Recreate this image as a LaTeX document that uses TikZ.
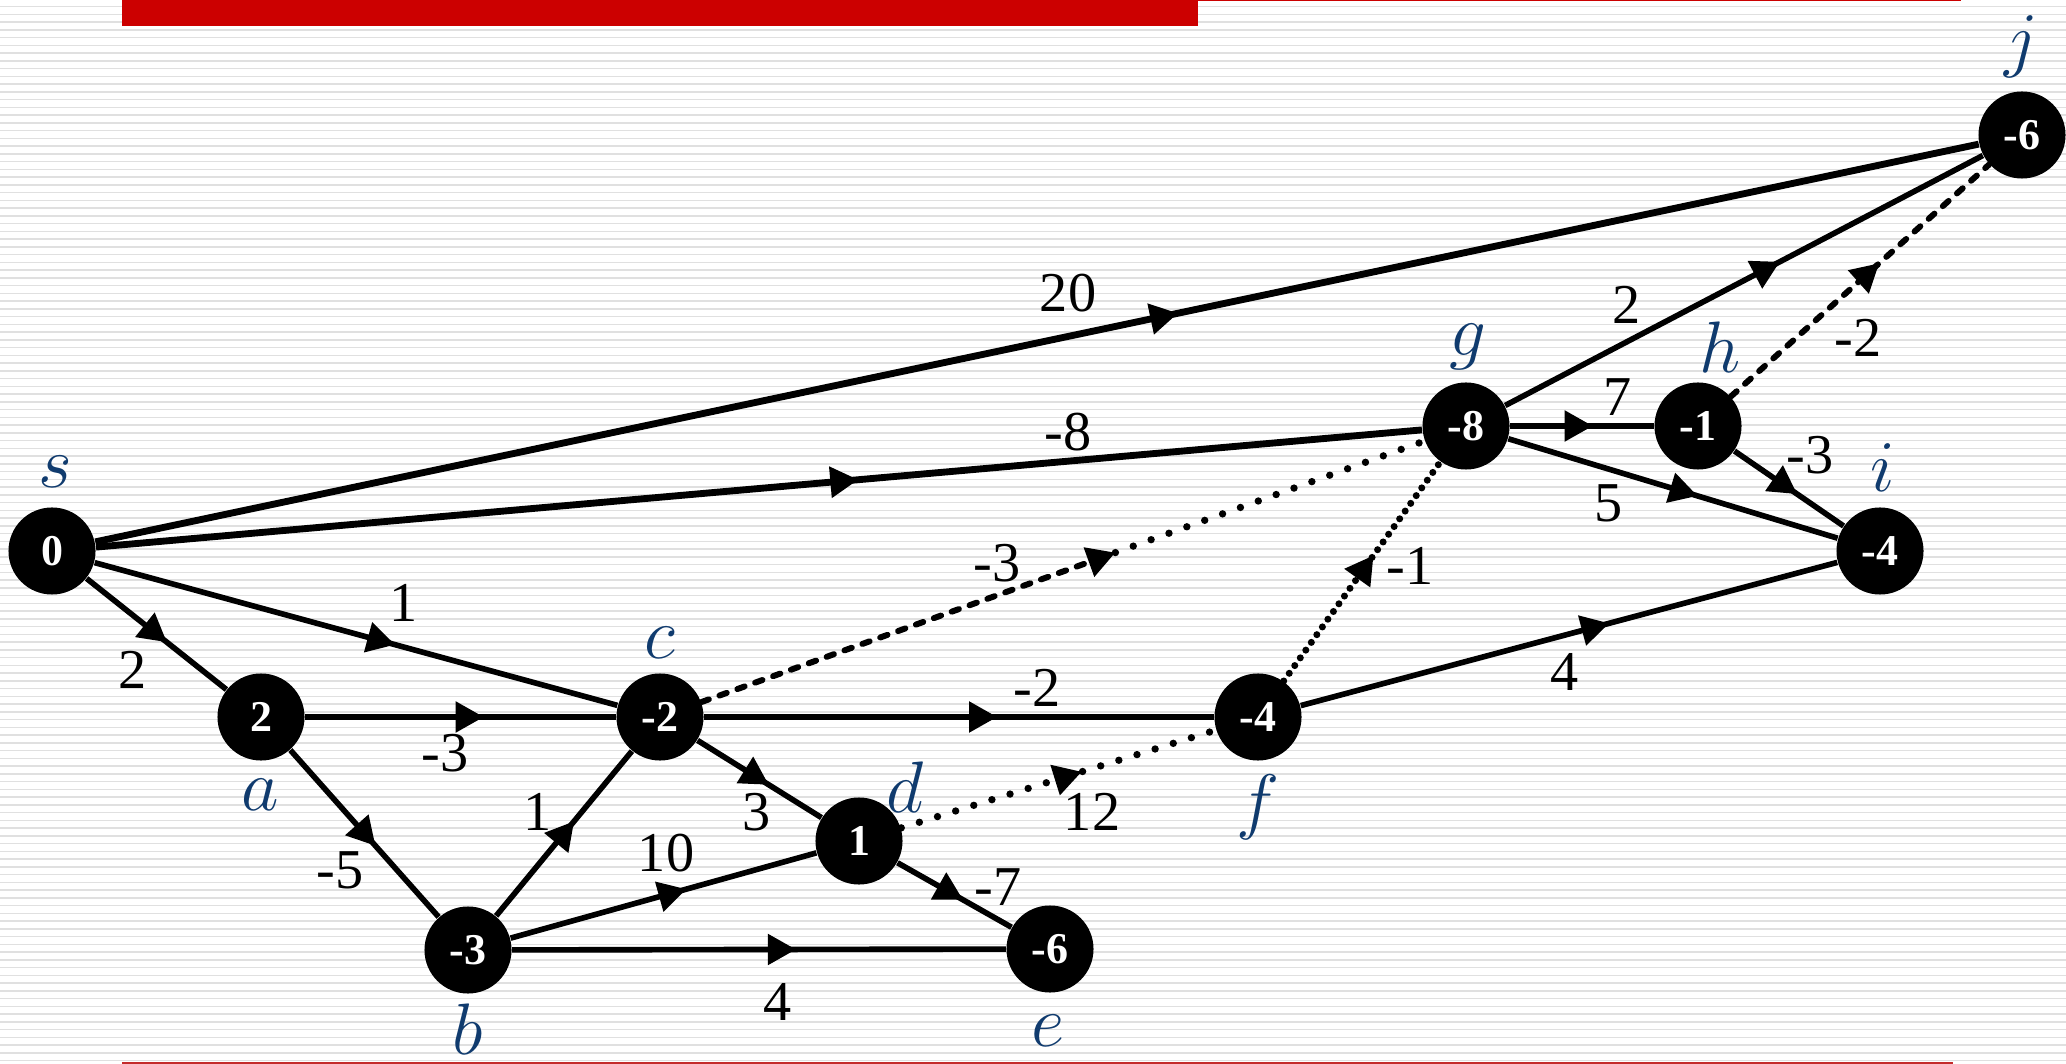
\documentclass[tikz,border=0pt]{standalone}
\usepackage{fontspec}
\setmainfont{Liberation Serif}
\usetikzlibrary{arrows.meta,decorations.markings,calc}
\definecolor{barred}{HTML}{CC0000}
\definecolor{linered}{HTML}{C42B2B}
\definecolor{labblue}{RGB}{16,59,110}
\definecolor{stripegray}{HTML}{E0E0E0}
\begin{document}
\begin{tikzpicture}[x=0.01cm,y=-0.01cm,
  vert/.style={circle,fill=black,minimum size=0.87cm,inner sep=0pt,text=white,font=\fontsize{12.5}{14}\selectfont\bfseries},
  lab/.style={text=labblue,font=\fontsize{22.5}{26}\selectfont,inner sep=0pt},
  wt/.style={font=\fontsize{16}{19}\selectfont,inner sep=0pt},
  stripe/.style={line width=0.45pt,stripegray},
  midarrow/.style={postaction={decorate},decoration={markings,mark=at position 0.575 with {\arrow{Triangle[length=8pt,width=8.5pt]}}}},
  solidline/.style={line width=1.6pt},
  heavyline/.style={line width=1.95pt},
  dashline/.style={line width=1.7pt,line cap=round,dash pattern=on 2.2pt off 3.2pt},
  dotline/.style={line width=2.1pt,line cap=round,dash pattern=on 0pt off 5.4pt},
  denseline/.style={line width=2pt,line cap=round,dash pattern=on 0pt off 2.7pt},
  tipend/.style={-{Triangle[length=8pt,width=8.5pt]}}
]
\useasboundingbox (0,0) rectangle (2066,1064);
\fill[white] (0,0) rectangle (2066,1064);
\foreach \k in {0,...,136} {\draw[stripe] (0,{6.7+7.75*\k}) -- (2066,{6.7+7.75*\k});}
\fill[barred] (122,0) rectangle (1198,26);
\fill[barred] (1198,0) rectangle (1961,1.4);
\fill[linered] (122,1062) rectangle (1953,1064);

% vertices
\node[vert] (s) at (52,551) {0};
\node[vert] (a) at (261,717) {2};
\node[vert] (b) at (468,950) {-3};
\node[vert] (c) at (660,717) {-2};
\node[vert] (d) at (859,841) {1};
\node[vert] (e) at (1050,949) {-6};
\node[vert] (f) at (1258,717) {-4};
\node[vert] (g) at (1466,426) {-8};
\node[vert] (h) at (1698,426) {-1};
\node[vert] (i) at (1880,551) {-4};
\node[vert] (j) at (2022,135) {-6};

% vertex names
\node[lab] (ls) at (55,472) {$s$};
\node[lab] (la) at (260,795) {$a$};
\node[lab] (lb) at (468,1029) {$b$};
\node[lab] (lc) at (660,643) {$c$};
\node[lab] (ld) at (905,787) {$d$};
\node[lab] (le) at (1048,1031) {$e$};
\node[lab] (lf) at (1258,807) {$f$};
\node[lab] (lg) at (1468,347) {$g$};
\node[lab] (lh) at (1720,347) {$h$};
\node[lab] (li) at (1883,468) {$i$};
\node[lab] (lj) at (2021,47) {$j$};

% solid edges
\draw[heavyline,midarrow] (s) -- (j);
\draw[heavyline,midarrow] (s) -- (g);
\draw[solidline,midarrow] (s) -- (a);
\draw[solidline,midarrow] (s) -- (c);
\draw[solidline,midarrow] (a) -- (c);
\draw[solidline,midarrow] (a) -- (b);
\draw[solidline,midarrow] (b) -- (c);
\draw[solidline,midarrow] (b) -- (d);
\draw[solidline,midarrow] (b) -- (e);
\draw[solidline,midarrow] (c) -- (d);
\draw[solidline,midarrow] (c) -- (f);
\draw[solidline,midarrow] (d) -- (e);
\draw[solidline,midarrow] (f) -- (i);
\draw[solidline,midarrow] (g) -- (h);
\draw[solidline,midarrow] (g) -- (i);
\draw[solidline,midarrow] (g) -- (j);
\draw[solidline,midarrow] (h) -- (i);

% broken edges
\coordinate (cgm) at ($(c)!0.565!(g)$);
\draw[dashline,tipend] (c) -- (cgm);
\draw[dotline] (cgm) -- (g);
\draw[dotline,midarrow] (d) -- (f);
\draw[denseline,midarrow] (f) -- (g);
\draw[dashline,midarrow] (h) -- (j);

% weights
\node[wt] (w1) at (1068,293) {20};
\node[wt] (w2) at (1068,432) {-8};
\node[wt] (w3) at (133,670) {2};
\node[wt] (w4) at (404,603) {1};
\node[wt] (w5) at (445,753) {-3};
\node[wt] (w6) at (340,870) {-5};
\node[wt] (w7) at (538,812) {1};
\node[wt] (w8) at (666,853) {10};
\node[wt] (w9) at (757,812) {3};
\node[wt] (w10) at (778,1002) {4};
\node[wt] (w11) at (998,887) {-7};
\node[wt] (w12) at (1037,688) {-2};
\node[wt] (w13) at (1092,812) {12};
\node[wt] (w14) at (997,563) {-3};
\node[wt] (w15) at (1410,566) {-1};
\node[wt] (w16) at (1565,672) {4};
\node[wt] (w17) at (1618,397) {7};
\node[wt] (w18) at (1609,503) {5};
\node[wt] (w19) at (1810,455) {-3};
\node[wt] (w20) at (1627,305) {2};
\node[wt] (w21) at (1858,338) {-2};
\end{tikzpicture}
\end{document}
